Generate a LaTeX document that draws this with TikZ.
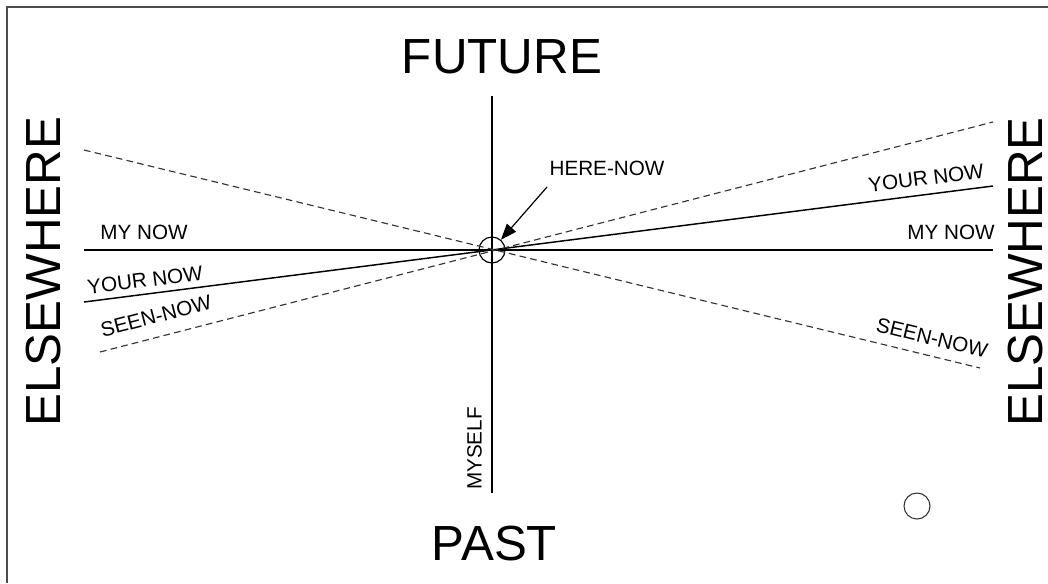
\documentclass[tikz,border=0pt]{standalone}
\usepackage{fontspec}
\setmainfont{Liberation Sans}
\usetikzlibrary{arrows.meta}
\tikzset{
  bigtext/.style={font=\fontsize{37}{40}\selectfont, inner sep=0pt},
  smalltext/.style={font=\fontsize{15.5}{18}\selectfont, inner sep=0pt},
  nowline/.style={line width=1.1pt},
  seenline/.style={line width=0.85pt, black!80, dash pattern=on 5pt off 3.2pt},
  spot/.style={circle, draw, line width=0.9pt, minimum size=19.5pt, inner sep=0pt},
}
\begin{document}
\begin{tikzpicture}[x=0.75pt,y=-0.75pt]
      \useasboundingbox (0,0) rectangle (1048,583);
      \draw[black!70, line width=1.5pt] (1048,7) -- (7,7) -- (7,583);
      \draw
        (502,56.5) node[bigtext] (future){FUTURE}
        (494.5,543.5) node[bigtext] (past){PAST}
        (43.5,271.5) node[bigtext, rotate=90] (elseL){ELSEWHERE}
        (1026,272) node[bigtext, rotate=90] (elseR){ELSEWHERE}
        (144,232) node[smalltext] (mynowL){MY NOW}
        (951,232) node[smalltext] (mynowR){MY NOW}
        (145,280) node[smalltext, rotate=7.3] (yournowL){YOUR NOW}
        (926,178) node[smalltext, rotate=7.3] (yournowR){YOUR NOW}
        (156,316) node[smalltext, rotate=14.6] (seennowL){SEEN-NOW}
        (932,338) node[smalltext, rotate=-13.7] (seennowR){SEEN-NOW}
        (474.5,448.5) node[smalltext, rotate=90] (myself){MYSELF}
        (607,168) node[smalltext] (herenow){HERE-NOW};
      \draw
        (492,250) coordinate (o)
        (492,96) coordinate (top)
        (492,493) coordinate (bottom)
        (84,250) coordinate (myL)
        (993,250) coordinate (myR)
        (84,302) coordinate (yourL)
        (993,186) coordinate (yourR)
        (84,150) coordinate (seenA)
        (980,368) coordinate (seenB)
        (100,352) coordinate (seenC)
        (993,122) coordinate (seenD)
        (547,187) coordinate (tail);
      \node[spot] (here) at (o) {};
      \node[spot, line width=0.8pt, black!80] (dot) at (917,506) {};
      \begin{scope}[nowline]
        \draw[line width=1.8pt] (top) to (bottom);
        \draw (myL) to (myR);
        \draw (yourL) to (yourR);
      \end{scope}
      \begin{scope}[seenline]
        \draw (seenA) to (seenB);
        \draw (seenC) to (seenD);
      \end{scope}
      \draw[-{Triangle[length=12pt,width=9pt]}, line width=0.9pt] (tail) to (here);
    \end{tikzpicture}
\end{document}
